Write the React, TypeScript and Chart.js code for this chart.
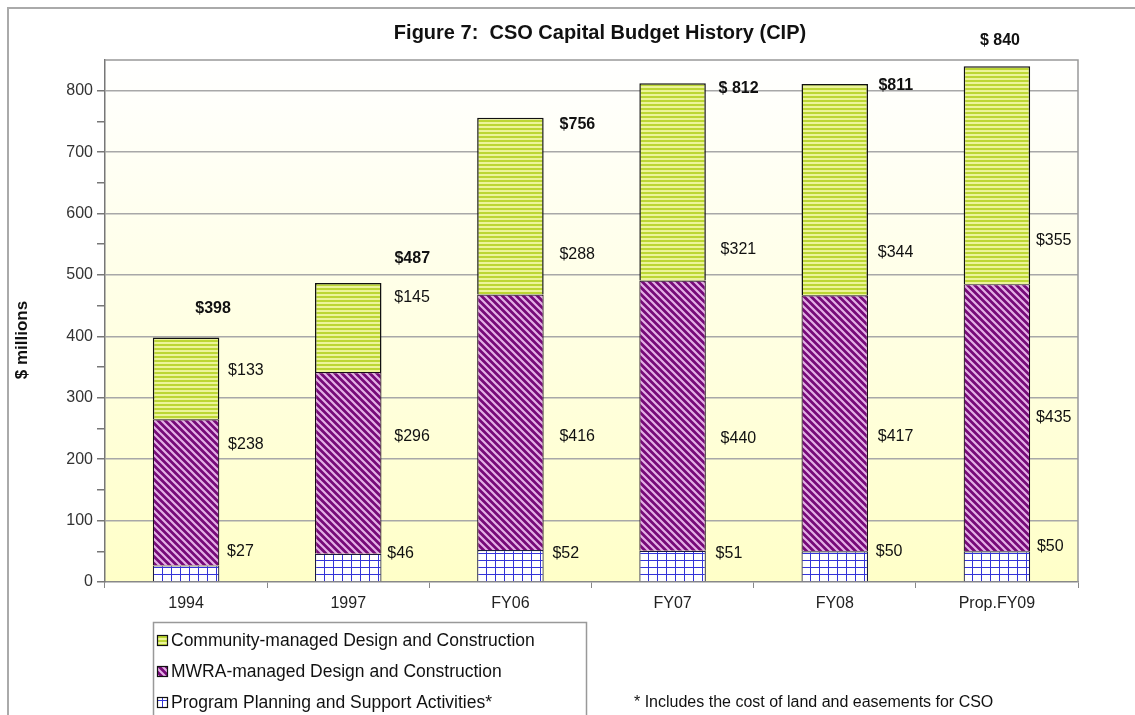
import React, { useEffect, useRef } from 'react';
import { Chart, registerables } from 'chart.js';

Chart.register(...registerables);

const categories = ['1994', '1997', 'FY06', 'FY07', 'FY08', 'Prop.FY09'];
const planning = [27, 46, 52, 51, 50, 50];
const mwra = [238, 296, 416, 440, 417, 435];
const community = [133, 145, 288, 321, 344, 355];
const totals = [398, 487, 756, 812, 811, 840];
const totalLabels = ['$398', '$487', '$756', '$ 812', '$811', '$ 840'];
const yTicks = [0, 100, 200, 300, 400, 500, 600, 700, 800];
const seriesNames = [
  'Community-managed Design and Construction',
  'MWRA-managed Design and Construction',
  'Program Planning and Support Activities*',
];
const titleText = 'Figure 7:  CSO Capital Budget History (CIP)';
const yTitle = '$ millions';
const footnote = '* Includes the cost of land and easements for CSO';

// label layout: horizontal offset from bar centre (px) and vertical anchor (axis units)
const labelLayout = {
  planning: { dx: [41, 39, 42, 43, 41, 40], at: [50, 47, 47, 47, 49, 57] },
  mwra: { dx: [42, 46, 49, 48, 43, 39], at: [224, 236, 236, 234, 236, 267] },
  community: { dx: [42, 46, 49, 48, 43, 39], at: [345, 463, 533, 541, 537, 556] },
  total: { dx: [27, 64, 67, 66, 61, 3], at: [445, 527, 745, 803, 808, 881] },
};

const FONT = '"Liberation Sans", Arial, sans-serif';

function tile(w: number, h: number, draw: (c: CanvasRenderingContext2D) => void): CanvasPattern {
  const cv = document.createElement('canvas');
  cv.width = w;
  cv.height = h;
  const c = cv.getContext('2d')!;
  draw(c);
  return c.createPattern(cv, 'repeat')!;
}

function makePatterns() {
  const comm = tile(4, 4, (c) => {
    c.fillStyle = '#BCD634';
    c.fillRect(0, 0, 4, 4);
    c.fillStyle = '#ECF49A';
    c.fillRect(0, 2, 4, 2);
  });
  const mw = tile(7, 7, (c) => {
    c.fillStyle = '#760A78';
    c.fillRect(0, 0, 7, 7);
    c.strokeStyle = '#E4B0E6';
    c.lineWidth = 2.2;
    c.beginPath();
    c.moveTo(-1, -1);
    c.lineTo(8, 8);
    c.moveTo(-8, -1);
    c.lineTo(1, 8);
    c.moveTo(6, -1);
    c.lineTo(15, 8);
    c.stroke();
  });
  const plan = tile(9, 7, (c) => {
    c.fillStyle = '#FFFFFF';
    c.fillRect(0, 0, 9, 7);
    c.fillStyle = '#3434D8';
    c.fillRect(0, 0, 1, 7);
    c.fillRect(0, 0, 9, 1);
  });
  return { comm, mw, plan };
}

export default function App() {
  const ref = useRef<HTMLCanvasElement | null>(null);

  useEffect(() => {
    if (!ref.current) return;
    const p = makePatterns();

    const decor = {
      id: 'decor',
      beforeDraw(chart: any) {
        const { ctx, chartArea: a } = chart;
        ctx.save();
        ctx.fillStyle = '#FFFFFF';
        ctx.fillRect(0, 0, chart.width, chart.height);
        const g = ctx.createLinearGradient(0, a.top, 0, a.bottom);
        g.addColorStop(0, '#FFFFFF');
        g.addColorStop(1, '#FFFFC8');
        ctx.fillStyle = g;
        ctx.fillRect(a.left, a.top, a.right - a.left, a.bottom - a.top);
        // outer frame
        ctx.strokeStyle = '#AAAAAA';
        ctx.lineWidth = 2;
        ctx.beginPath();
        ctx.moveTo(8, chart.height);
        ctx.lineTo(8, 8);
        ctx.lineTo(chart.width, 8);
        ctx.stroke();
        ctx.restore();
      },
      afterDraw(chart: any) {
        const { ctx, chartArea: a, scales } = chart;
        const ys = scales.y;
        ctx.save();
        // plot border (top & right)
        ctx.strokeStyle = '#999999';
        ctx.lineWidth = 1.5;
        ctx.beginPath();
        ctx.moveTo(a.left, a.top);
        ctx.lineTo(a.right, a.top);
        ctx.lineTo(a.right, a.bottom);
        ctx.stroke();

        // title
        ctx.fillStyle = '#111';
        ctx.font = `bold 20px ${FONT}`;
        ctx.textAlign = 'center';
        ctx.textBaseline = 'middle';
        ctx.fillText(titleText, 600, 33);

        // y title
        ctx.save();
        ctx.translate(22, 340);
        ctx.rotate(-Math.PI / 2);
        ctx.font = `bold 17px ${FONT}`;
        ctx.fillText(yTitle, 0, 0);
        ctx.restore();

        // value labels
        const metas = [chart.getDatasetMeta(0), chart.getDatasetMeta(1), chart.getDatasetMeta(2)];
        const sets = [planning, mwra, community];
        const lays = [labelLayout.planning, labelLayout.mwra, labelLayout.community];
        ctx.font = `16px ${FONT}`;
        ctx.textAlign = 'left';
        for (let s = 0; s < 3; s++) {
          metas[s].data.forEach((bar: any, i: number) => {
            ctx.fillText('$' + sets[s][i], bar.x + lays[s].dx[i], ys.getPixelForValue(lays[s].at[i]));
          });
        }
        ctx.font = `bold 16px ${FONT}`;
        ctx.textAlign = 'center';
        metas[2].data.forEach((bar: any, i: number) => {
          ctx.fillText(totalLabels[i], bar.x + labelLayout.total.dx[i], ys.getPixelForValue(labelLayout.total.at[i]));
        });

        // legend
        ctx.strokeStyle = '#999999';
        ctx.lineWidth = 1.5;
        ctx.strokeRect(153.5, 622.5, 433, 120);
        const fills = [p.comm, p.mw, p.plan];
        const ly = [640, 671, 702];
        ctx.font = `17.5px ${FONT}`;
        ctx.textAlign = 'left';
        for (let k = 0; k < 3; k++) {
          ctx.fillStyle = fills[k];
          ctx.fillRect(157, ly[k] - 5, 11, 11);
          ctx.strokeStyle = '#111';
          ctx.lineWidth = 1.2;
          ctx.strokeRect(157.5, ly[k] - 4.5, 10, 10);
          ctx.fillStyle = '#111';
          ctx.fillText(seriesNames[k], 171, ly[k] + 1);
        }
        ctx.font = `16px ${FONT}`;
        ctx.fillText(footnote, 634, 703);
        ctx.restore();
      },
    };

    const chart = new Chart(ref.current, {
      type: 'bar',
      data: {
        labels: categories,
        datasets: [
          { label: seriesNames[2], data: planning, backgroundColor: p.plan as any, borderColor: '#1a1a40', borderWidth: 1.2 },
          { label: seriesNames[1], data: mwra, backgroundColor: p.mw as any, borderColor: '#1a0a1a', borderWidth: 1.2 },
          { label: seriesNames[0], data: community, backgroundColor: p.comm as any, borderColor: '#111', borderWidth: 1.5 },
        ],
      },
      options: {
        responsive: false,
        animation: false,
        devicePixelRatio: 1,
        layout: { padding: { top: 60, right: 57, left: 0, bottom: 0 } },
        datasets: { bar: { categoryPercentage: 1, barPercentage: 0.41 } },
        plugins: { legend: { display: false }, title: { display: false }, tooltip: { enabled: false } },
        scales: {
          x: {
            stacked: true,
            grid: { offset: true, drawOnChartArea: false, drawTicks: true, tickLength: 6, color: '#888' },
            border: { color: '#888', width: 1.5 },
            ticks: { font: { family: FONT, size: 16 }, color: '#222', padding: 6 },
            afterFit: (s: any) => { s.height = 133; },
          },
          y: {
            stacked: true,
            min: 0,
            max: 850,
            afterBuildTicks: (s: any) => {
              const t: any[] = [];
              for (let v = 0; v <= 850; v += 50) t.push({ value: v });
              s.ticks = t;
            },
            grid: {
              color: (c: any) => (c.tick && c.tick.value % 100 === 0 && c.tick.value !== 0 ? '#A8A8A8' : 'rgba(0,0,0,0)'),
              tickColor: (c: any) => (c.tick && c.tick.value === 850 ? 'rgba(0,0,0,0)' : '#777'),
              tickLength: 8,
              lineWidth: 1.5,
            },
            border: { color: '#777', width: 1.5 },
            ticks: {
              autoSkip: false,
              font: { family: FONT, size: 16 },
              color: '#333',
              padding: 4,
              callback: (v: any) => (yTicks.includes(Number(v)) ? String(v) : ''),
            },
            afterFit: (s: any) => { s.width = 105; },
          },
        },
      },
      plugins: [decor],
    });
    return () => chart.destroy();
  }, []);

  return (
    <div style={{ position: 'fixed', left: 0, top: 0, width: 1135, height: 715 }}>
      <canvas ref={ref} width={1135} height={715} style={{ width: 1135, height: 715, display: 'block' }} />
    </div>
  );
}
